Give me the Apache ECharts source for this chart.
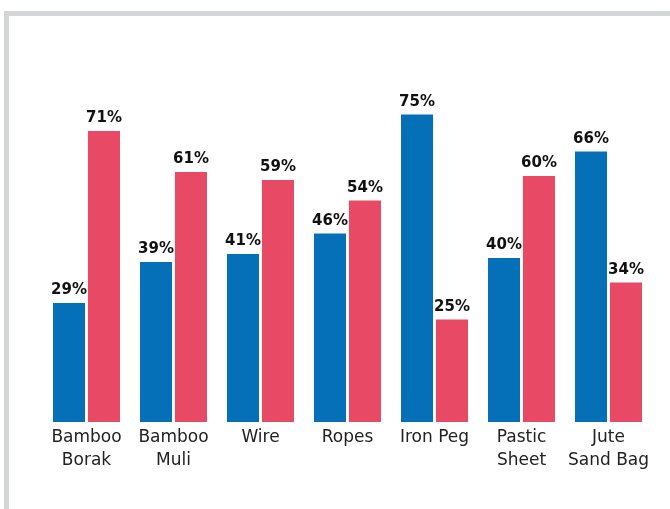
<!DOCTYPE html>
<html><head><meta charset="utf-8">
<style>html,body{margin:0;padding:0;background:#fff}#c{width:670px;height:509px}</style>
<script src="https://cdn.jsdelivr.net/npm/echarts@6/dist/echarts.min.js"></script>
</head><body><div id="c"></div>
<script>
var categories = ['Bamboo\nBorak','Bamboo\nMuli','Wire','Ropes','Iron Peg','Pastic\nSheet','Jute\nSand Bag'];
var seriesA = [29,39,41,46,75,40,66];
var seriesB = [71,61,59,54,25,60,34];
var chart = echarts.init(document.getElementById('c'));
var lbl = {show:true,position:'top',distance:5,formatter:'{c}%',color:'#111',fontWeight:'bold',fontSize:15,fontFamily:'DejaVu Sans'};
chart.setOption({
  animation:false,
  graphic:[
    {type:'rect',shape:{x:4,y:11,width:666,height:5},style:{fill:'#d4d5d7'},silent:true},
    {type:'rect',shape:{x:4,y:11,width:5,height:498},style:{fill:'#d4d5d7'},silent:true}
  ],
  grid:{left:43,right:18,top:12,bottom:87},
  xAxis:{type:'category',data:categories,axisLine:{show:false},axisTick:{show:false},
    axisLabel:{color:'#222',fontSize:17,fontFamily:'DejaVu Sans',lineHeight:23,margin:4,interval:0}},
  yAxis:{type:'value',min:0,max:100,show:false,splitLine:{show:false}},
  series:[
    {type:'bar',data:seriesA,barCategoryGap:'23%',barGap:'9%',itemStyle:{color:'#0570b8'},label:lbl},
    {type:'bar',data:seriesB,itemStyle:{color:'#e84a65'},label:lbl}
  ]
});
</script></body></html>
